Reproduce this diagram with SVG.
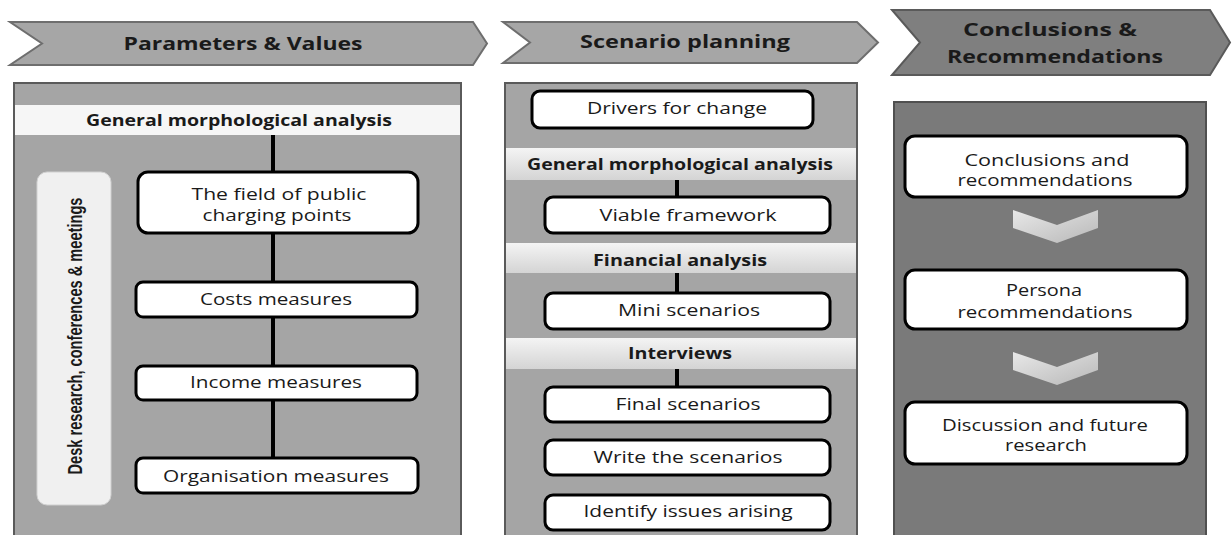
<svg xmlns="http://www.w3.org/2000/svg" width="1232" height="535" viewBox="0 0 1232 535">
<defs>
<linearGradient id="band" x1="0" y1="0" x2="0" y2="1">
<stop offset="0" stop-color="#f4f4f4"/><stop offset="1" stop-color="#d4d4d4"/>
</linearGradient>
<linearGradient id="chev" x1="0" y1="0" x2="1" y2="1">
<stop offset="0" stop-color="#e8e8e8"/><stop offset="1" stop-color="#b8b8b8"/>
</linearGradient>
<style>
text{font-family:"Open Sans","Liberation Sans",Arial,sans-serif;fill:#1a1a1a;text-anchor:middle}
.h{font-size:18px;font-weight:bold}
.t{font-size:16px}
.b{font-size:16px;font-weight:bold}
.v{font-family:"Liberation Sans",Arial,sans-serif;font-size:21px;font-weight:bold}
.node{fill:#ffffff;stroke:#000;stroke-width:3}
.hdr{fill:#a6a6a6;stroke:#6e6e6e;stroke-width:2}
.hdr3{fill:#7f7f7f;stroke:#5a5a5a;stroke-width:2}
.panel{fill:#a5a5a5;stroke:#5a5a5a;stroke-width:2}
.panel3{fill:#7a7a7a;stroke:#505050;stroke-width:2}
.band{fill:url(#band)}
.band1{fill:#f6f6f6}
.conn{stroke:#000;stroke-width:4;fill:none}
.chev{fill:url(#chev)}
</style>
</defs>
<rect width="1232" height="535" fill="#ffffff"/>

<g id="header-parameters">
<polygon class="hdr" points="10,22 473,22 487,43.5 473,65 10,65 42,43.5"/>
<text class="h" x="243" y="50" textLength="239" lengthAdjust="spacingAndGlyphs">Parameters &amp; Values</text>
</g>
<g id="header-scenario">
<polygon class="hdr" points="503,22 857,22 878,42.5 857,63 503,63 530,42.5"/>
<text class="h" x="685" y="48" textLength="210" lengthAdjust="spacingAndGlyphs">Scenario planning</text>
</g>
<g id="header-conclusions">
<polygon class="hdr3" points="892,10 1210,10 1230,42.5 1210,75 892,75 920,42.5"/>
<text class="h" x="1050" y="36" textLength="174" lengthAdjust="spacingAndGlyphs">Conclusions &amp;</text>
<text class="h" x="1055" y="63" textLength="216" lengthAdjust="spacingAndGlyphs">Recommendations</text>
</g>

<g id="panel-parameters">
<rect class="panel" x="14" y="83" width="447" height="460"/>
<rect class="band1" x="15" y="105" width="445" height="30"/>
<text class="b" x="239" y="126" textLength="306" lengthAdjust="spacingAndGlyphs">General morphological analysis</text>
</g>
<g id="panel-scenario">
<rect class="panel" x="505" y="83" width="352" height="460"/>
</g>
<g id="panel-conclusions">
<rect class="panel3" x="894" y="102" width="312" height="440"/>
</g>

<g id="connectors">
<line class="conn" x1="273" y1="135" x2="273" y2="458"/>
<line class="conn" x1="677" y1="180" x2="677" y2="197"/>
<line class="conn" x1="677" y1="273" x2="677" y2="293"/>
<line class="conn" x1="677" y1="369" x2="677" y2="387"/>
<polygon class="chev" points="1013,210 1057,225 1098,210 1098,228 1057,243 1013,228"/>
<polygon class="chev" points="1013,352 1057,367 1098,352 1098,370 1057,385 1013,370"/>
</g>

<g id="desk-research">
<rect x="37" y="172" width="74" height="333" rx="10" fill="#f0f0f0" stroke="#d0d0d0" stroke-width="1"/>
<text class="v" transform="translate(82,336) rotate(-90)" x="0" y="0" textLength="277" lengthAdjust="spacingAndGlyphs">Desk research, conferences &amp; meetings</text>
</g>

<g id="node-field">
<rect class="node" x="138" y="172" width="280" height="61" rx="10"/>
<text class="t" x="279" y="200" textLength="175" lengthAdjust="spacingAndGlyphs">The field of public</text>
<text class="t" x="277" y="221" textLength="149" lengthAdjust="spacingAndGlyphs">charging points</text>
</g>
<g id="node-costs">
<rect class="node" x="136" y="282" width="281" height="35" rx="7"/>
<text class="t" x="276" y="305" textLength="152" lengthAdjust="spacingAndGlyphs">Costs measures</text>
</g>
<g id="node-income">
<rect class="node" x="136" y="366" width="281" height="34" rx="7"/>
<text class="t" x="276" y="388" textLength="172" lengthAdjust="spacingAndGlyphs">Income measures</text>
</g>
<g id="node-organisation">
<rect class="node" x="136" y="458" width="282" height="35" rx="7"/>
<text class="t" x="276" y="482" textLength="226" lengthAdjust="spacingAndGlyphs">Organisation measures</text>
</g>

<g id="node-drivers">
<rect class="node" x="532" y="91" width="281" height="37" rx="8"/>
<text class="t" x="677" y="114" textLength="180" lengthAdjust="spacingAndGlyphs">Drivers for change</text>
</g>
<g id="band-gma">
<rect class="band" x="506" y="148" width="350" height="32"/>
<text class="b" x="680" y="170" textLength="306" lengthAdjust="spacingAndGlyphs">General morphological analysis</text>
</g>
<g id="node-viable">
<rect class="node" x="545" y="197" width="285" height="36" rx="8"/>
<text class="t" x="688" y="221" textLength="177" lengthAdjust="spacingAndGlyphs">Viable framework</text>
</g>
<g id="band-financial">
<rect class="band" x="506" y="243" width="350" height="30"/>
<text class="b" x="680" y="266" textLength="174" lengthAdjust="spacingAndGlyphs">Financial analysis</text>
</g>
<g id="node-mini">
<rect class="node" x="545" y="293" width="285" height="36" rx="8"/>
<text class="t" x="689" y="316" textLength="142" lengthAdjust="spacingAndGlyphs">Mini scenarios</text>
</g>
<g id="band-interviews">
<rect class="band" x="506" y="338" width="350" height="31"/>
<text class="b" x="680" y="359" textLength="104" lengthAdjust="spacingAndGlyphs">Interviews</text>
</g>
<g id="node-final">
<rect class="node" x="545" y="387" width="285" height="35" rx="8"/>
<text class="t" x="688" y="410" textLength="145" lengthAdjust="spacingAndGlyphs">Final scenarios</text>
</g>
<g id="node-write">
<rect class="node" x="545" y="440" width="285" height="35" rx="8"/>
<text class="t" x="688" y="463" textLength="189" lengthAdjust="spacingAndGlyphs">Write the scenarios</text>
</g>
<g id="node-identify">
<rect class="node" x="545" y="495" width="285" height="35" rx="8"/>
<text class="t" x="688" y="517" textLength="209" lengthAdjust="spacingAndGlyphs">Identify issues arising</text>
</g>

<g id="node-conclusions">
<rect class="node" x="905" y="136" width="282" height="61" rx="10"/>
<text class="t" x="1047" y="166" textLength="165" lengthAdjust="spacingAndGlyphs">Conclusions and</text>
<text class="t" x="1045" y="186" textLength="175" lengthAdjust="spacingAndGlyphs">recommendations</text>
</g>
<g id="node-persona">
<rect class="node" x="905" y="270" width="282" height="59" rx="10"/>
<text class="t" x="1044" y="296" textLength="76" lengthAdjust="spacingAndGlyphs">Persona</text>
<text class="t" x="1045" y="318" textLength="175" lengthAdjust="spacingAndGlyphs">recommendations</text>
</g>
<g id="node-discussion">
<rect class="node" x="905" y="402" width="282" height="62" rx="10"/>
<text class="t" x="1045" y="431" textLength="206" lengthAdjust="spacingAndGlyphs">Discussion and future</text>
<text class="t" x="1046" y="451" textLength="82" lengthAdjust="spacingAndGlyphs">research</text>
</g>
</svg>
